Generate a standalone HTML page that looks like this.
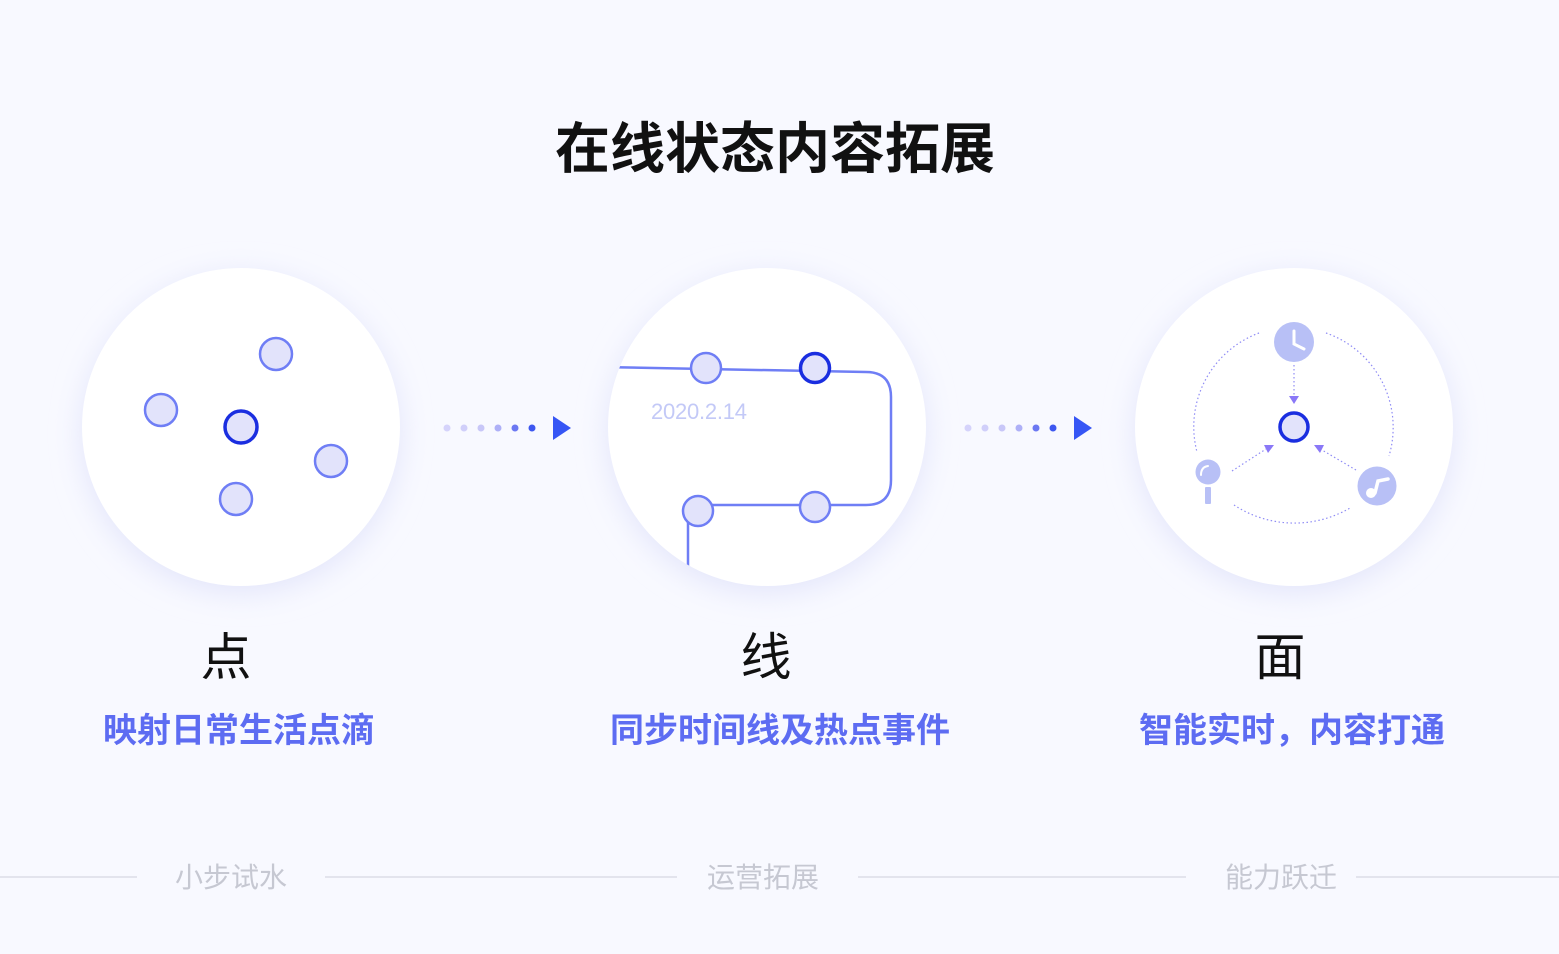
<!DOCTYPE html>
<html><head><meta charset="utf-8"><style>
body{margin:0;width:1559px;height:954px;background:#f8f9ff;overflow:hidden;font-family:"Liberation Sans","Noto Sans CJK SC",sans-serif}
</style></head><body>
<svg width="1559" height="954" viewBox="0 0 1559 954" xmlns="http://www.w3.org/2000/svg" style="position:absolute;left:0;top:0">
<defs>
<filter id="sh" x="-30%" y="-30%" width="160%" height="160%"><feGaussianBlur stdDeviation="14"/></filter>
<clipPath id="c2"><circle cx="767" cy="427" r="159"/></clipPath>
</defs>
<text x="775" y="168" text-anchor="middle" font-size="55" font-weight="bold" fill="#111" font-family="Liberation Sans,Noto Sans CJK SC,sans-serif">在线状态内容拓展</text>
<g fill="#e4e6fb" filter="url(#sh)">
<circle cx="241" cy="434" r="160"/><circle cx="767" cy="434" r="160"/><circle cx="1294" cy="434" r="160"/>
</g>
<g fill="#fff"><circle cx="241" cy="427" r="159"/><circle cx="767" cy="427" r="159"/><circle cx="1294" cy="427" r="159"/></g>
<g fill="#e2e3fb" stroke="#6f7ef5" stroke-width="2.5">
<circle cx="276" cy="354" r="16"/><circle cx="161" cy="410" r="16"/><circle cx="331" cy="461" r="16"/><circle cx="236" cy="499" r="16"/>
</g>
<circle cx="241" cy="427" r="16" fill="#e2e3fb" stroke="#1a2ee0" stroke-width="3.5"/>
<g>
<circle cx="447" cy="428" r="3.5" fill="#d5d3fb"/><circle cx="464" cy="428" r="3.5" fill="#d0cffa"/><circle cx="481" cy="428" r="3.5" fill="#c8c7f8"/><circle cx="498" cy="428" r="3.5" fill="#aeb0f7"/><circle cx="515" cy="428" r="3.5" fill="#6b78f2"/><circle cx="532" cy="428" r="3.5" fill="#3d57f0"/>
<polygon points="553,416 571,428 553,440" fill="#3656f5"/>
<circle cx="968" cy="428" r="3.5" fill="#d5d3fb"/><circle cx="985" cy="428" r="3.5" fill="#d0cffa"/><circle cx="1002" cy="428" r="3.5" fill="#c8c7f8"/><circle cx="1019" cy="428" r="3.5" fill="#aeb0f7"/><circle cx="1036" cy="428" r="3.5" fill="#6b78f2"/><circle cx="1053" cy="428" r="3.5" fill="#3d57f0"/>
<polygon points="1074,416 1092,428 1074,440" fill="#3656f5"/>
</g>
<g clip-path="url(#c2)">
<path d="M600,367 L866,372 Q891,372 891,397 L891,480 Q891,505 866,505 L700,505 Q688,505 688,517 L688,600" fill="none" stroke="#6f7ef5" stroke-width="2.5"/>
</g>
<text x="651" y="419" font-size="22" fill="#c3c9f7" font-family="Liberation Sans,sans-serif" textLength="96">2020.2.14</text>
<g fill="#e2e3fb" stroke="#6f7ef5" stroke-width="2.5">
<circle cx="706" cy="368" r="15"/><circle cx="815" cy="507" r="15"/><circle cx="698" cy="511" r="15"/>
</g>
<circle cx="815" cy="368" r="14.5" fill="#e2e3fb" stroke="#1a2ee0" stroke-width="3.5"/>
<g fill="none" stroke="#8f8cf5" stroke-width="1.2" stroke-dasharray="1.5 2.5">
<path d="M1259,333 A100,100 0 0 0 1197,452"/>
<path d="M1326,333 A100,100 0 0 1 1389,456"/>
<path d="M1234,505 A110,110 0 0 0 1350,508"/>
<path d="M1294,365 L1294,396"/>
<path d="M1232,471 L1266,449"/>
<path d="M1356,470 L1322,450"/>
</g>
<g fill="#8a78f7">
<polygon points="1289,396 1299,396 1294,404"/>
<polygon points="1264,445 1274,445 1268,453"/>
<polygon points="1314,445 1324,445 1320,453"/>
</g>
<circle cx="1294" cy="342" r="20" fill="#b8c0f6"/>
<path d="M1294,331 L1294,344 L1304,349" fill="none" stroke="#fff" stroke-width="3" stroke-linecap="round"/>
<circle cx="1294" cy="427" r="14" fill="#e2e3fb" stroke="#1a2ee0" stroke-width="3.5"/>
<circle cx="1208" cy="472" r="12.5" fill="#b8c0f6"/>
<path d="M1201,475 Q1201,467 1208,466" fill="none" stroke="#fff" stroke-width="2" stroke-linecap="round"/>
<rect x="1205" y="487" width="6" height="17" rx="1" fill="#b8c0f6"/>
<circle cx="1377" cy="486" r="19.5" fill="#b8c0f6"/>
<circle cx="1371" cy="493" r="5" fill="#fff"/>
<path d="M1375,493 L1378,481 L1388,479" fill="none" stroke="#fff" stroke-width="3.5" stroke-linecap="round"/>
<g font-family="Liberation Sans,Noto Sans CJK SC,sans-serif">
<text x="226" y="675" text-anchor="middle" font-size="51" fill="#111">点</text>
<text x="766" y="675" text-anchor="middle" font-size="51" fill="#111">线</text>
<text x="1280" y="675" text-anchor="middle" font-size="51" fill="#111">面</text>
<text x="239" y="742" text-anchor="middle" font-size="34" font-weight="bold" fill="#5d6cf2">映射日常生活点滴</text>
<text x="780" y="742" text-anchor="middle" font-size="34" font-weight="bold" fill="#5d6cf2">同步时间线及热点事件</text>
<text x="1292" y="742" text-anchor="middle" font-size="34" font-weight="bold" fill="#5d6cf2">智能实时，内容打通</text>
<text x="231" y="887" text-anchor="middle" font-size="28" fill="#c6c8d2">小步试水</text>
<text x="763" y="887" text-anchor="middle" font-size="28" fill="#c6c8d2">运营拓展</text>
<text x="1281" y="887" text-anchor="middle" font-size="28" fill="#c6c8d2">能力跃迁</text>
</g>
<g stroke="#d6d8e2" stroke-width="1.2">
<line x1="0" y1="877" x2="137" y2="877"/>
<line x1="325" y1="877" x2="677" y2="877"/>
<line x1="858" y1="877" x2="1186" y2="877"/>
<line x1="1356" y1="877" x2="1559" y2="877"/>
</g>
</svg>
</body></html>
